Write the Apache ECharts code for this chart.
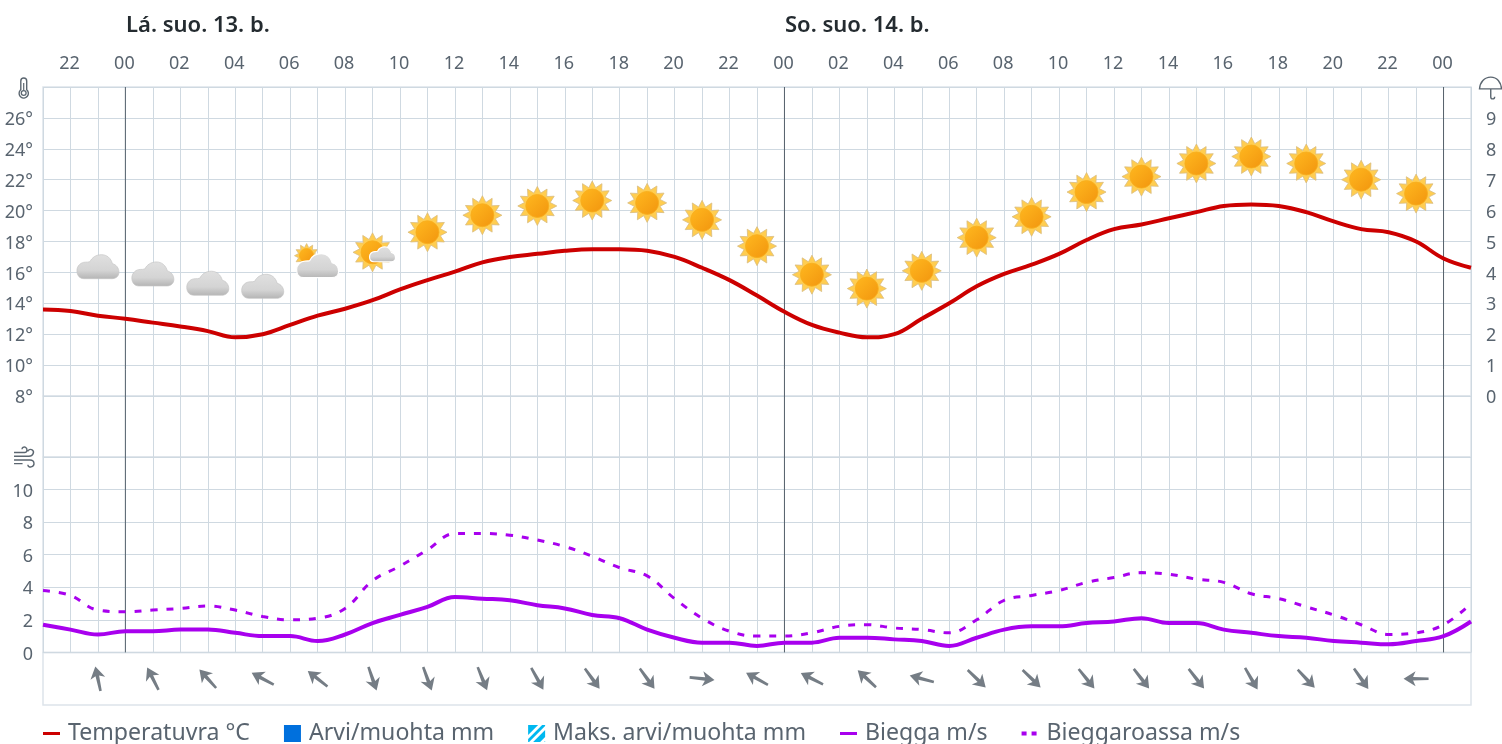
<!DOCTYPE html>
<html>
<head>
<meta charset="utf-8">
<style>html,body{margin:0;padding:0;background:#fff;overflow:hidden}#c{width:1502px;height:744px}</style>
<script src="https://cdn.jsdelivr.net/npm/echarts@6/dist/echarts.min.js"></script>
</head>
<body>
<div id="c"></div>
<script>
const hours = [21,22,23,24,25,26,27,28,29,30,31,32,33,34,35,36,37,38,39,40,41,42,43,44,45,46,47,48,49,50,51,52,53,54,55,56,57,58,59,60,61,62,63,64,65,66,67,68,69,70,71,72,73];
const temperature = [13.6,13.5,13.2,13.0,12.75,12.5,12.2,11.8,12.0,12.6,13.2,13.65,14.2,14.9,15.5,16.05,16.65,17.0,17.2,17.4,17.5,17.5,17.4,17.0,16.3,15.5,14.5,13.45,12.6,12.1,11.8,12.0,13.0,14.0,15.1,15.9,16.5,17.2,18.1,18.8,19.1,19.5,19.9,20.3,20.4,20.3,19.9,19.3,18.8,18.6,18.0,16.9,16.3];
const wind = [1.7,1.4,1.1,1.3,1.3,1.4,1.4,1.2,1.0,1.0,0.7,1.1,1.8,2.3,2.8,3.4,3.3,3.2,2.9,2.7,2.3,2.1,1.4,0.9,0.6,0.6,0.4,0.6,0.6,0.9,0.9,0.8,0.7,0.4,0.9,1.4,1.6,1.6,1.8,1.9,2.1,1.8,1.8,1.4,1.2,1.0,0.9,0.7,0.6,0.5,0.7,1.0,1.9];
const gust = [3.8,3.5,2.6,2.5,2.6,2.7,2.85,2.6,2.2,2.0,2.1,2.7,4.4,5.3,6.3,7.3,7.3,7.2,6.9,6.5,5.9,5.2,4.7,3.3,2.1,1.3,1.0,1.0,1.2,1.6,1.7,1.5,1.4,1.2,2.0,3.2,3.5,3.8,4.3,4.6,4.9,4.8,4.5,4.3,3.6,3.3,2.8,2.3,1.7,1.1,1.2,1.7,3.0];
const symbolHours = [23,25,27,29,31,33,35,37,39,41,43,45,47,49,51,53,55,57,59,61,63,65,67,69,71];
const symbolLevels = [16.37,15.9,15.3,15.1,16.5,17.3,18.6,19.7,20.3,20.65,20.5,19.4,17.7,15.85,14.95,16.1,18.25,19.6,21.2,22.2,23.05,23.5,23.05,22.0,21.1];
const symbolKinds = ['cloud','cloud','cloud','cloud','cloudSun','sunCloud','sun','sun','sun','sun','sun','sun','sun','sun','sun','sun','sun','sun','sun','sun','sun','sun','sun','sun','sun'];
const windDirections = [12,27,42,62,52,199,200,202,209,216,216,264,61,63,47,75,226,226,219,218,218,210,223,215,90];
const midnightHours = [24,48,72];
const dayLabels = ['Lá. suo. 13. b.','So. suo. 14. b.'];
const seriesNames = ['Temperatuvra °C','Arvi/muohta mm','Maks. arvi/muohta mm','Biegga m/s','Bieggaroassa m/s'];

const FONT='"Noto Sans"', TXT='#59646f', GRID='#cfd9e1', FRAME='#dde4ea', ICON='#5b6670';
const RED='#cc0000', PURPLE='#a800ee', BLUE='#0070dd', CYAN='#00b8f0';
const L=43,R=31;
const CLOUD='M7 24C3 24 0 21 0 16C0 11 4 7.5 8.5 7.5C10 7.5 11.5 7.5 13 7C15 3 19 0 24.5 0C30 0 34 3.5 35.5 9C39.5 10 42 13.5 42 17.5C42 21.5 39 24 35 24Z';
const ICON_LINE='M0 0L0 0M0 7H17V10H0ZM17 17L17 17';
const ICON_DASH='M0 0L0 0M0 6.5H5V10.5H0ZM10 6.5H15V10.5H10ZM17 17L17 17';
const ICON_HATCH='M0 0H10L0 10ZM14 0H17V1L1 17H0V14ZM17 5V12L12 17H5ZM17 16V17H16Z';
const ARROW='M7 0L14 12L8.7 9.5L8.2 25H5.8L5.3 9.5L0 12Z';

function star(cx,cy,s){
  const pts=[];
  for(let i=0;i<24;i++){const r=(i%2?13.3:19.5)*s,a=-Math.PI/2+i*Math.PI/12;pts.push([cx+r*Math.cos(a),cy+r*Math.sin(a)]);}
  return pts;
}
function sun(cx,cy,s){
  return [
    {type:'polygon',shape:{points:star(cx,cy,s)},style:{fill:'#ffcd50',stroke:'#d9bd80',lineWidth:.8}},
    {type:'circle',shape:{cx:cx,cy:cy,r:11.5*s},style:{fill:new echarts.graphic.LinearGradient(0,0,1,1,[{offset:0,color:'#ffb81f'},{offset:1,color:'#f2950e'}]),stroke:'#f7ae1e',lineWidth:.8}}
  ];
}
function cloud(cx,cy,w,outline){
  const h=w*24/42;
  return {type:'path',shape:{pathData:CLOUD,x:cx-w/2,y:cy-h/2,width:w,height:h},layout:'cover',
    style:{fill:new echarts.graphic.LinearGradient(0,0,0,1,[{offset:0,color:'#e0e0e0'},{offset:.65,color:'#d4d4d4'},{offset:1,color:'#b4b4b4'}]),stroke:outline?'#ffffff':'#c4c4c4',lineWidth:outline?1.2:.7}};
}
function renderSymbol(params,api){
  const p=api.coord([api.value(0),api.value(1)]),x=p[0],y=p[1],k=symbolKinds[params.dataIndex];
  let ch=[];
  if(k==='sun') ch=sun(x,y,1);
  else if(k==='cloud') ch=[cloud(x,y,42,false)];
  else if(k==='cloudSun') ch=sun(x-11,y-9,.62).concat([cloud(x,y+1,42,true)]);
  else ch=sun(x,y,1).concat([cloud(x+10,y+2,26,true)]);
  return {type:'group',children:ch};
}
function renderMidnight(params,api){
  const a=api.coord([api.value(0),0]),b=api.coord([api.value(0),1]);
  return {type:'line',shape:{x1:a[0],y1:a[1],x2:b[0],y2:b[1]},style:{stroke:'#55606b',lineWidth:1}};
}
const strokeIcon=(d,x,y,w,h)=>({type:'path',shape:{pathData:d,x:x,y:y,width:w,height:h},layout:'cover',style:{fill:'none',stroke:ICON,lineWidth:1.4}});
function renderIcons(){
  return {type:'group',children:[
    strokeIcon('M2 14V3.5A3.5 3.5 0 0 1 9 3.5V14A5.5 5.5 0 1 1 2 14Z',18.5,78,10.5,20),
    {type:'circle',shape:{cx:23.7,cy:93,r:2.4},style:{fill:'none',stroke:ICON,lineWidth:1.3}},
    {type:'line',shape:{x1:23.7,y1:90,x2:23.7,y2:83},style:{stroke:ICON,lineWidth:1.2}},
    strokeIcon('M0 9H14C18 9 19.5 4.5 17 3C15.5 2 13 3 13 4.5M0 12.5H15C19.5 12.5 20 18 16 19C14.5 19.5 13 18.5 13 17M0 5.5H10C12.5 5.5 13 1.5 10.5 0.5C9 0 7.5 1 7.5 2.5M0 16H8',14,447,20,20),
    strokeIcon('M0 12C0.5 5 5 0 11.5 0C18 0 22 5 22.5 12ZM11.5 12V20C11.5 23 15.5 23 15.5 20',1479.5,77,22,22)
  ]};
}
const pair=a=>hours.map((h,i)=>[h,a[i]]);
const sub=(x,extra)=>Object.assign({min:21,max:73,interval:1,axisLine:{show:false},axisTick:{show:false},axisLabel:{show:false},splitLine:{show:true,lineStyle:{color:GRID,width:1}}},x,extra);
const gridBase=(t,h)=>({left:L,right:R,top:t,height:h,show:true,borderColor:FRAME,borderWidth:1.5,backgroundColor:'transparent'});
const yBlank=(g,min,max)=>({type:'value',gridIndex:g,min:min,max:max,axisLine:{show:false},axisTick:{show:false},axisLabel:{show:false},splitLine:{show:false}});
const ylab={color:TXT,fontFamily:FONT,fontSize:18,verticalAlign:'top',lineHeight:4};

const option={
  animation:false,
  backgroundColor:'#fff',
  title:[
    {text:dayLabels[0],left:126,top:15,padding:0,textStyle:{fontFamily:FONT,fontSize:22,fontWeight:600,color:'#242b30'}},
    {text:dayLabels[1],left:785,top:15,padding:0,textStyle:{fontFamily:FONT,fontSize:22,fontWeight:600,color:'#242b30'}}
  ],
  legend:{
    left:43,top:722,itemGap:34,itemWidth:17,itemHeight:17,selectedMode:false,padding:0,
    textStyle:{fontFamily:FONT,fontSize:23.1,color:TXT,padding:[0,0,0,3]},
    data:[
      {name:seriesNames[0],icon:'path://'+ICON_LINE},
      {name:seriesNames[1],icon:'rect'},
      {name:seriesNames[2],icon:'path://'+ICON_HATCH},
      {name:seriesNames[3],icon:'path://'+ICON_LINE},
      {name:seriesNames[4],icon:'path://'+ICON_DASH}
    ]
  },
  grid:[gridBase(87,309),gridBase(396,61),gridBase(457,195.4),gridBase(652.4,52.6),
        {left:L,right:R,top:87,height:565.4,show:false}],
  xAxis:[
    sub({type:'value',gridIndex:0,position:'top'},{axisLabel:{show:true,margin:14,color:TXT,fontFamily:FONT,fontSize:18,padding:[0,2,0,0],
      formatter:v=>{const h=v%24;return h%2===0?String(h).padStart(2,'0'):'';}}}),
    sub({type:'value',gridIndex:1}),
    sub({type:'value',gridIndex:2}),
    sub({type:'value',gridIndex:3},{splitLine:{show:false}}),
    sub({type:'value',gridIndex:4},{splitLine:{show:false}})
  ],
  yAxis:[
    {type:'value',gridIndex:0,min:8,max:28,interval:2,axisLine:{show:false},axisTick:{show:false},splitLine:{show:true,lineStyle:{color:GRID,width:1}},
      axisLabel:Object.assign({margin:10,formatter:v=>v===28?'':v+'°'},ylab)},
    {type:'value',gridIndex:0,position:'right',min:0,max:10,interval:1,axisLine:{show:false},axisTick:{show:false},splitLine:{show:false},
      axisLabel:Object.assign({margin:15,formatter:v=>v===10?'':String(v)},ylab)},
    yBlank(1,0,1),
    {type:'value',gridIndex:2,min:0,max:12,interval:2,axisLine:{show:false},axisTick:{show:false},splitLine:{show:true,lineStyle:{color:GRID,width:1}},
      axisLabel:Object.assign({margin:10,formatter:v=>v===12?'':String(v)},ylab)},
    yBlank(3,0,1),
    yBlank(4,0,1)
  ],
  series:[
    {type:'custom',xAxisIndex:4,yAxisIndex:5,silent:true,z:1,clip:false,renderItem:renderMidnight,data:midnightHours.map(h=>[h])},
    {type:'custom',coordinateSystem:'none',silent:true,z:1,renderItem:renderIcons,data:[[0]]},
    {name:seriesNames[1],type:'bar',xAxisIndex:0,yAxisIndex:1,data:[],itemStyle:{color:BLUE}},
    {name:seriesNames[2],type:'bar',xAxisIndex:0,yAxisIndex:1,data:[],itemStyle:{color:CYAN}},
    {name:seriesNames[0],type:'line',xAxisIndex:0,yAxisIndex:0,z:3,smooth:.4,showSymbol:false,silent:true,lineStyle:{color:RED,width:4},itemStyle:{color:RED},data:pair(temperature)},
    {type:'custom',xAxisIndex:0,yAxisIndex:0,z:4,silent:true,clip:false,renderItem:renderSymbol,data:symbolHours.map((h,i)=>[h,symbolLevels[i]])},
    {name:seriesNames[3],type:'line',xAxisIndex:2,yAxisIndex:3,z:3,smooth:.4,showSymbol:false,silent:true,lineStyle:{color:PURPLE,width:4},itemStyle:{color:PURPLE},data:pair(wind)},
    {name:seriesNames[4],type:'line',xAxisIndex:2,yAxisIndex:3,z:3,smooth:.4,showSymbol:false,silent:true,lineStyle:{color:PURPLE,width:3,type:[7,9]},itemStyle:{color:PURPLE},data:pair(gust)},
    {type:'scatter',xAxisIndex:3,yAxisIndex:4,z:3,silent:true,symbol:'path://'+ARROW,symbolSize:[15,25],itemStyle:{color:'#525c67'},
      symbolRotate:(v,p)=>windDirections[p.dataIndex],data:symbolHours.map(h=>[h,.5])}
  ]
};
echarts.init(document.getElementById('c'),null,{renderer:'canvas'}).setOption(option);
</script>
</body>
</html>
